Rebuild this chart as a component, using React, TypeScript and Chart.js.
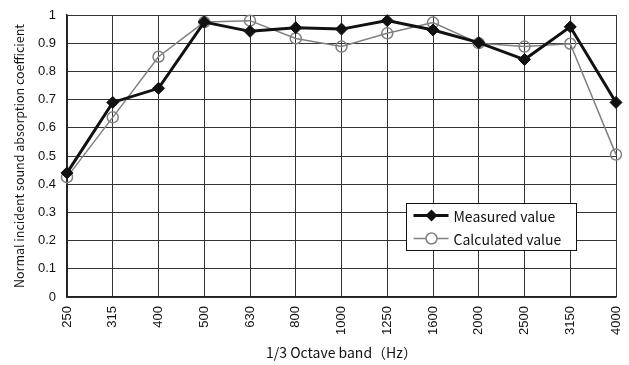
import React, { useEffect, useRef } from "react";
import { Chart, registerables } from "chart.js";

Chart.register(...registerables);

const bands = ["250", "315", "400", "500", "630", "800", "1000", "1250", "1600", "2000", "2500", "3150", "4000"];
const measured = [0.44, 0.69, 0.74, 0.975, 0.942, 0.955, 0.95, 0.98, 0.947, 0.902, 0.842, 0.958, 0.69];
const calculated = [0.425, 0.637, 0.852, 0.975, 0.98, 0.917, 0.888, 0.935, 0.973, 0.9, 0.888, 0.898, 0.505];
const seriesNames = ["Measured value", "Calculated value"];
const yAxisTitle = "Normal incident sound absorption coefficient";
const xAxisTitle = "1/3 Octave band（Hz）";

const FONT = "'Liberation Sans', Arial, sans-serif";
const JFONT = "'Noto Sans CJK JP', 'Liberation Sans', sans-serif";

const insideLegend = {
  id: "insideLegend",
  afterDraw(chart: any) {
    const { ctx, chartArea } = chart;
    const w = chartArea.right - chartArea.left;
    const h = chartArea.bottom - chartArea.top;
    const bx = Math.round(chartArea.left + w * 0.617) + 0.5;
    const by = Math.round(chartArea.top + h * 0.667) + 0.5;
    const bw = 170;
    const bh = 47;
    ctx.save();
    ctx.fillStyle = "#ffffff";
    ctx.fillRect(bx, by, bw, bh);
    ctx.strokeStyle = "#111111";
    ctx.lineWidth = 1;
    ctx.strokeRect(bx, by, bw, bh);
    chart.data.datasets.forEach((ds: any, i: number) => {
      const cy = by + 12 + i * 23;
      const x0 = bx + 7;
      const x1 = bx + 42;
      const mx = bx + 25;
      ctx.strokeStyle = ds.borderColor;
      ctx.lineWidth = ds.borderWidth;
      ctx.beginPath();
      ctx.moveTo(x0, cy);
      ctx.lineTo(x1, cy);
      ctx.stroke();
      const r = ds.pointRadius;
      if (ds.pointStyle === "rectRot") {
        ctx.fillStyle = ds.pointBackgroundColor;
        ctx.beginPath();
        ctx.moveTo(mx, cy - r);
        ctx.lineTo(mx + r, cy);
        ctx.lineTo(mx, cy + r);
        ctx.lineTo(mx - r, cy);
        ctx.closePath();
        ctx.fill();
      } else {
        ctx.fillStyle = "#ffffff";
        ctx.strokeStyle = ds.pointBorderColor;
        ctx.lineWidth = ds.pointBorderWidth;
        ctx.beginPath();
        ctx.arc(mx, cy, r, 0, Math.PI * 2);
        ctx.fill();
        ctx.stroke();
      }
      ctx.fillStyle = "#111111";
      ctx.font = `14px ${JFONT}`;
      ctx.textBaseline = "middle";
      ctx.textAlign = "left";
      ctx.fillText(seriesNames[i], bx + 47, cy + 1);
    });
    ctx.restore();
  },
};

export default function App() {
  const ref = useRef<HTMLCanvasElement | null>(null);
  useEffect(() => {
    if (!ref.current) return;
    const chart = new Chart(ref.current, {
      type: "line",
      data: {
        labels: bands,
        datasets: [
          {
            label: seriesNames[0],
            data: measured,
            borderColor: "#111111",
            borderWidth: 3,
            pointStyle: "rectRot",
            pointRadius: 6,
            pointBackgroundColor: "#111111",
            pointBorderColor: "#111111",
            pointBorderWidth: 1,
            tension: 0,
            clip: false,
          },
          {
            label: seriesNames[1],
            data: calculated,
            borderColor: "#808080",
            borderWidth: 1.5,
            pointStyle: "circle",
            pointRadius: 5.5,
            pointBackgroundColor: "rgba(0,0,0,0)",
            pointBorderColor: "#808080",
            pointBorderWidth: 1.5,
            tension: 0,
            clip: false,
          },
        ],
      } as any,
      options: {
        animation: false,
        responsive: false,
        layout: { padding: { left: 0, right: 13, top: 15, bottom: 0 } },
        plugins: { legend: { display: false }, tooltip: { enabled: false } },
        scales: {
          x: {
            offset: false,
            grid: { color: "#333333", lineWidth: 1, drawTicks: false },
            border: { color: "#222222", width: 1.5 },
            ticks: {
              autoSkip: false,
              maxRotation: 90,
              minRotation: 90,
              padding: 9,
              color: "#111111",
              font: { family: FONT, size: 13 },
            },
            title: {
              display: true,
              text: xAxisTitle,
              color: "#111111",
              font: { family: JFONT, size: 14 },
              padding: { top: 0, bottom: 4 },
            },
            afterFit(scale: any) {
              scale.height = 68;
              scale.paddingLeft = 0;
              scale.paddingRight = 0;
            },
          },
          y: {
            min: 0,
            max: 1,
            grid: { color: "#333333", lineWidth: 1, drawTicks: false },
            border: { color: "#222222", width: 1.5 },
            ticks: {
              stepSize: 0.1,
              padding: 11,
              color: "#111111",
              font: { family: FONT, size: 13 },
              callback: (v: any) => String(Math.round(Number(v) * 10) / 10),
            },
            title: {
              display: true,
              text: yAxisTitle,
              color: "#111111",
              font: { family: JFONT, size: 12.5 },
              padding: { top: 12, bottom: 0 },
            },
            afterFit(scale: any) {
              scale.width = 67;
              scale.paddingTop = 0;
              scale.paddingBottom = 0;
            },
          },
        },
      } as any,
      plugins: [insideLegend],
    });
    return () => chart.destroy();
  }, []);
  return (
    <div style={{ position: "fixed", left: 0, top: 0, width: 629, height: 365, background: "#fff" }}>
      <canvas ref={ref} width={629} height={365} />
    </div>
  );
}
